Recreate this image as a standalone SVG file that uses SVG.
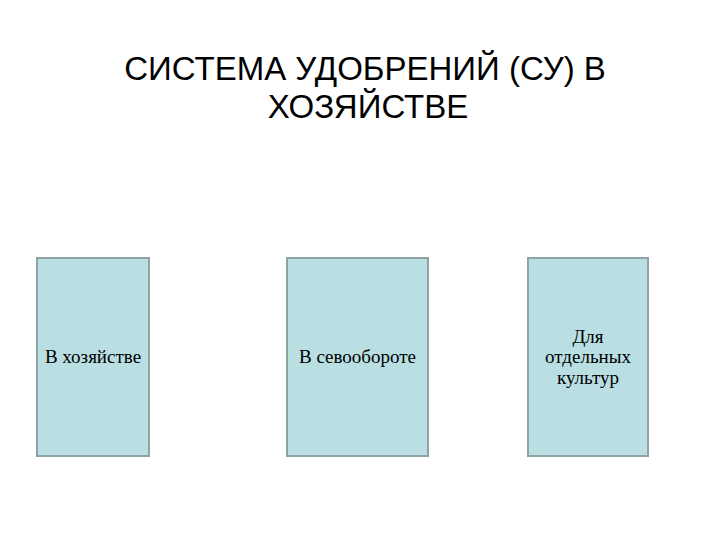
<svg xmlns="http://www.w3.org/2000/svg" width="720" height="540" viewBox="0 0 720 540">
<style>
.title{font-family:"Liberation Sans",Arial,sans-serif;font-size:33px;fill:#000;text-anchor:middle}
.box{fill:#b9dfe3;stroke:#8fa3a6;stroke-width:2}
.lbl{font-family:"Liberation Serif","DejaVu Serif",serif;font-size:19px;fill:#000;text-anchor:middle}
</style>
<rect width="720" height="540" fill="#fff"/>
<g id="title">
<text class="title" x="365" y="80">СИСТЕМА УДОБРЕНИЙ (СУ) В</text>
<text class="title" x="368" y="118">ХОЗЯЙСТВЕ</text>
</g>
<g id="connectors"></g>
<g id="node1">
<rect class="box" x="37" y="258" width="112" height="198"/>
<text class="lbl" x="93" y="363">В хозяйстве</text>
</g>
<g id="node2">
<rect class="box" x="287" y="258" width="141" height="198"/>
<text class="lbl" x="357.5" y="363">В севообороте</text>
</g>
<g id="node3">
<rect class="box" x="528" y="258" width="120" height="198"/>
<text class="lbl" x="588" y="343">Для</text>
<text class="lbl" x="588" y="363">отдельных</text>
<text class="lbl" x="588" y="384">культур</text>
</g>
</svg>
